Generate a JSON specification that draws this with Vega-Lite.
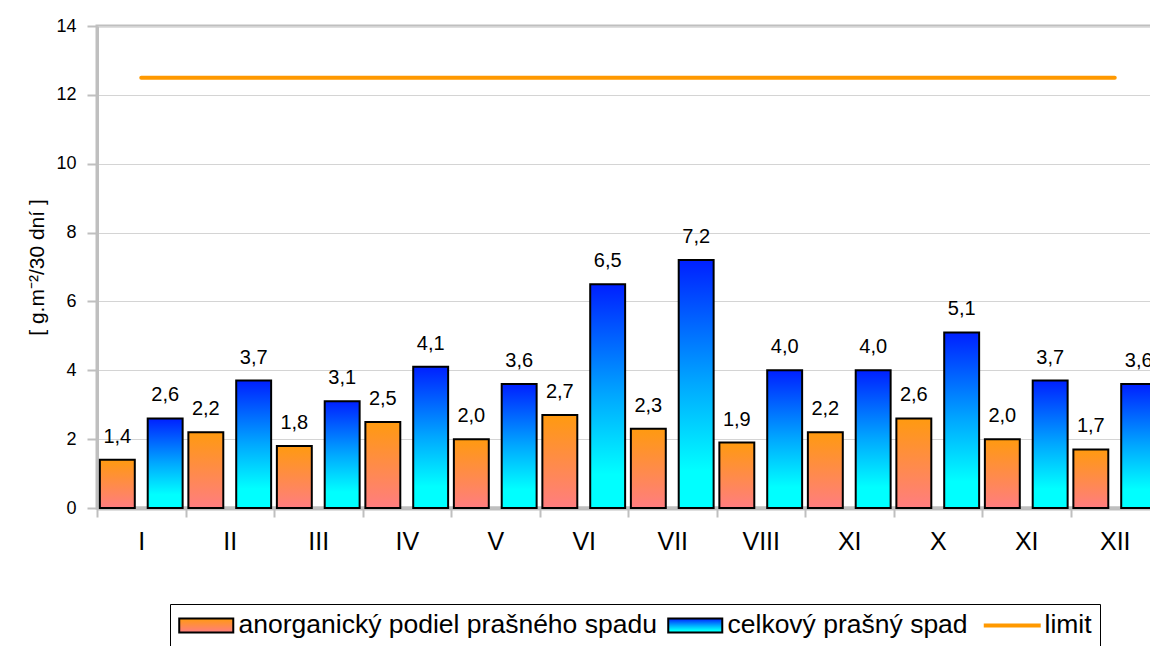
{
  "$schema": "https://vega.github.io/schema/vega-lite/v6.json",
  "width": 1062,
  "height": 482,
  "autosize": {"type": "none"},
  "padding": {"left": 97, "top": 26, "right": 0, "bottom": 138},
  "background": "white",
  "config": {
    "locale": {"number": {"decimal": ",", "thousands": " ", "grouping": [3], "currency": ["", ""]}},
    "font": "Liberation Sans",
    "view": {"stroke": "#bfbfbf", "strokeWidth": 3},
    "axis": {"labelColor": "black", "titleColor": "black", "labelFont": "Liberation Sans", "titleFont": "Liberation Sans"}
  },
  "data": {
    "values": [
      {"mesiac": "I", "rad": "anorganický podiel prašného spadu", "hodnota": 1.4},
      {"mesiac": "I", "rad": "celkový prašný spad", "hodnota": 2.6},
      {"mesiac": "II", "rad": "anorganický podiel prašného spadu", "hodnota": 2.2},
      {"mesiac": "II", "rad": "celkový prašný spad", "hodnota": 3.7},
      {"mesiac": "III", "rad": "anorganický podiel prašného spadu", "hodnota": 1.8},
      {"mesiac": "III", "rad": "celkový prašný spad", "hodnota": 3.1},
      {"mesiac": "IV", "rad": "anorganický podiel prašného spadu", "hodnota": 2.5},
      {"mesiac": "IV", "rad": "celkový prašný spad", "hodnota": 4.1},
      {"mesiac": "V", "rad": "anorganický podiel prašného spadu", "hodnota": 2.0},
      {"mesiac": "V", "rad": "celkový prašný spad", "hodnota": 3.6},
      {"mesiac": "VI", "rad": "anorganický podiel prašného spadu", "hodnota": 2.7},
      {"mesiac": "VI", "rad": "celkový prašný spad", "hodnota": 6.5},
      {"mesiac": "VII", "rad": "anorganický podiel prašného spadu", "hodnota": 2.3},
      {"mesiac": "VII", "rad": "celkový prašný spad", "hodnota": 7.2},
      {"mesiac": "VIII", "rad": "anorganický podiel prašného spadu", "hodnota": 1.9},
      {"mesiac": "VIII", "rad": "celkový prašný spad", "hodnota": 4.0},
      {"mesiac": "XI", "rad": "anorganický podiel prašného spadu", "hodnota": 2.2},
      {"mesiac": "XI", "rad": "celkový prašný spad", "hodnota": 4.0},
      {"mesiac": "X", "rad": "anorganický podiel prašného spadu", "hodnota": 2.6},
      {"mesiac": "X", "rad": "celkový prašný spad", "hodnota": 5.1},
      {"mesiac": "XI\u200b", "rad": "anorganický podiel prašného spadu", "hodnota": 2.0},
      {"mesiac": "XI\u200b", "rad": "celkový prašný spad", "hodnota": 3.7},
      {"mesiac": "XII", "rad": "anorganický podiel prašného spadu", "hodnota": 1.7},
      {"mesiac": "XII", "rad": "celkový prašný spad", "hodnota": 3.6},
      {"mesiac": "I", "rad": "limit", "hodnota": 12.5},
      {"mesiac": "II", "rad": "limit", "hodnota": 12.5},
      {"mesiac": "III", "rad": "limit", "hodnota": 12.5},
      {"mesiac": "IV", "rad": "limit", "hodnota": 12.5},
      {"mesiac": "V", "rad": "limit", "hodnota": 12.5},
      {"mesiac": "VI", "rad": "limit", "hodnota": 12.5},
      {"mesiac": "VII", "rad": "limit", "hodnota": 12.5},
      {"mesiac": "VIII", "rad": "limit", "hodnota": 12.5},
      {"mesiac": "XI", "rad": "limit", "hodnota": 12.5},
      {"mesiac": "X", "rad": "limit", "hodnota": 12.5},
      {"mesiac": "XI\u200b", "rad": "limit", "hodnota": 12.5},
      {"mesiac": "XII", "rad": "limit", "hodnota": 12.5}
    ]
  },
  "encoding": {
    "x": {
      "field": "mesiac",
      "type": "nominal",
      "sort": null,
      "scale": {"paddingInner": 0, "paddingOuter": 0},
      "axis": {
        "title": null,
        "labelAngle": 0,
        "labelFontSize": 25,
        "labelPadding": 12,
        "tickBand": "extent",
        "tickSize": 9,
        "tickColor": "#bfbfbf",
        "tickWidth": 2,
        "domainColor": "#bfbfbf",
        "domainWidth": 4,
        "grid": false
      }
    },
    "y": {
      "field": "hodnota",
      "type": "quantitative",
      "scale": {"domain": [0, 14], "nice": false},
      "axis": {
        "title": "[ g.m⁻²/30 dní ]",
        "titleFontSize": 21,
        "titleFontWeight": "normal",
        "titlePadding": 8,
        "values": [0, 2, 4, 6, 8, 10, 12, 14],
        "format": "d",
        "labelFontSize": 18,
        "labelPadding": 11,
        "tickSize": 10,
        "tickColor": "#bfbfbf",
        "tickWidth": 2,
        "domainColor": "#bfbfbf",
        "domainWidth": 3,
        "grid": true,
        "gridColor": "#d4d4d4",
        "gridWidth": 1
      }
    }
  },
  "layer": [
    {
      "transform": [{"filter": "datum.rad !== 'limit'"}],
      "mark": {"type": "bar", "stroke": "black", "strokeWidth": 2},
      "encoding": {
        "xOffset": {"field": "rad", "type": "nominal", "sort": null, "scale": {"paddingInner": 0.27, "paddingOuter": 0.06}},
        "color": {
          "field": "rad",
          "type": "nominal",
          "scale": {
            "domain": ["anorganický podiel prašného spadu", "celkový prašný spad", "limit"],
            "range": [
              {"expr": "{gradient: 'linear', x1: 0, y1: 0, x2: 0, y2: 1, stops: [{offset: 0, color: '#ff9a10'}, {offset: 1, color: '#ff7d80'}]}"},
              {"expr": "{gradient: 'linear', x1: 0, y1: 0, x2: 0, y2: 1, stops: [{offset: 0, color: '#0020ff'}, {offset: 0.5, color: '#00a8ff'}, {offset: 0.85, color: '#00ffff'}, {offset: 1, color: '#00ffff'}]}"},
              "#ff9900"
            ]
          },
          "legend": {
            "title": null,
            "orient": "none",
            "legendX": 73,
            "legendY": 578,
            "direction": "horizontal",
            "labelFontSize": 26.5,
            "labelFont": "Liberation Sans",
            "labelColor": "black",
            "labelLimit": 1000,
            "labelOffset": 19,
            "columnPadding": 7,
            "symbolOffset": 15,
            "symbolSize": 196,
            "symbolType": {"expr": "datum.value === 'limit' ? 'M-4.07,0H4.07' : 'M-3.86,-1H3.86V1H-3.86Z'"},
            "symbolStrokeColor": {"expr": "datum.value === 'limit' ? '#ff9900' : 'black'"},
            "symbolStrokeWidth": {"expr": "datum.value === 'limit' ? 4 : 2"},
            "symbolOpacity": 1,
            "padding": 8,
            "strokeColor": "black",
            "fillColor": "white"
          }
        }
      }
    },
    {
      "transform": [{"filter": "datum.rad !== 'limit'"}],
      "mark": {"type": "text", "baseline": "alphabetic", "dy": -17, "fontSize": 20, "color": "black"},
      "encoding": {
        "xOffset": {"field": "rad", "type": "nominal", "sort": null, "scale": {"paddingInner": 0.27, "paddingOuter": 0.06}},
        "text": {"field": "hodnota", "type": "quantitative", "format": ".1f"}
      }
    },
    {
      "transform": [{"filter": "datum.rad === 'limit'"}],
      "mark": {"type": "line", "strokeWidth": 4, "strokeCap": "round", "color": "#ff9900"},
      "encoding": {}
    }
  ]
}
